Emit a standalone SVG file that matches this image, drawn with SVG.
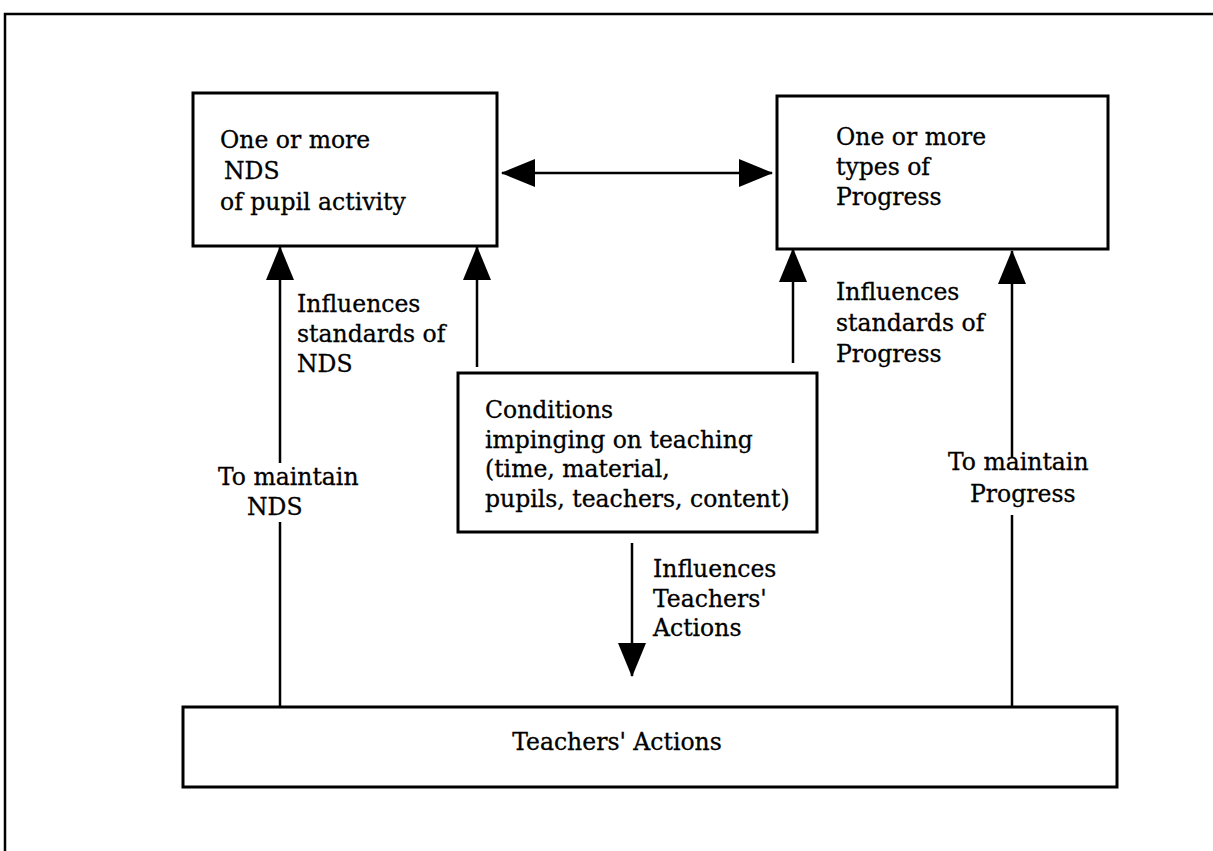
<svg xmlns="http://www.w3.org/2000/svg" width="1213" height="851" viewBox="0 0 1213 851">
<style>
.box{fill:#fff;stroke:#000;stroke-width:3}
.ln{stroke:#000;stroke-width:2.5;fill:none}
text{font-family:"DejaVu Serif","Liberation Serif",serif;font-size:23.5px;fill:#000;stroke:#000;stroke-width:0.3}
</style>
<defs>
<marker id="ah" markerUnits="userSpaceOnUse" markerWidth="34" markerHeight="30" refX="33" refY="15" orient="auto-start-reverse" viewBox="0 0 34 30">
<polygon points="0,1 34,15 0,29" fill="#000"/>
</marker>
</defs>
<rect width="1213" height="851" fill="#fff"/>
<g id="frame"><path class="ln" d="M5,851 V14 H1213" stroke-width="3"/></g>
<g id="connectors">
<line class="ln" x1="502" y1="173" x2="772" y2="173" marker-start="url(#ah)" marker-end="url(#ah)"/>
<line class="ln" x1="280" y1="707" x2="280" y2="522"/>
<line class="ln" x1="280" y1="463" x2="280" y2="247" marker-end="url(#ah)"/>
<line class="ln" x1="477" y1="367" x2="477" y2="247" marker-end="url(#ah)"/>
<line class="ln" x1="793" y1="363" x2="793" y2="249" marker-end="url(#ah)"/>
<line class="ln" x1="1012" y1="707" x2="1012" y2="515"/>
<line class="ln" x1="1012" y1="457" x2="1012" y2="251" marker-end="url(#ah)"/>
<line class="ln" x1="632" y1="543" x2="632" y2="676" marker-end="url(#ah)"/>
</g>
<g id="nds">
<rect class="box" x="193" y="93" width="304" height="153"/>
<text x="220" y="148">One or more</text>
<text x="224" y="179">NDS</text>
<text x="220" y="210">of pupil activity</text>
</g>
<g id="progress">
<rect class="box" x="777" y="96" width="331" height="153"/>
<text x="836" y="145">One or more</text>
<text x="836" y="175">types of</text>
<text x="836" y="205">Progress</text>
</g>
<g id="conditions">
<rect class="box" x="458" y="373" width="359" height="159"/>
<text x="485" y="418">Conditions</text>
<text x="485" y="448">impinging on teaching</text>
<text x="485" y="477">(time, material,</text>
<text x="485" y="507">pupils, teachers, content)</text>
</g>
<g id="teachers-actions">
<rect class="box" x="183" y="707" width="934" height="80"/>
<text x="617" y="750" text-anchor="middle">Teachers' Actions</text>
</g>
<g id="labels">
<text x="297" y="312">Influences</text>
<text x="297" y="342">standards of</text>
<text x="297" y="372">NDS</text>
<text x="836" y="300">Influences</text>
<text x="836" y="331">standards of</text>
<text x="836" y="362">Progress</text>
<text x="218" y="485">To maintain</text>
<text x="247" y="515">NDS</text>
<text x="948" y="470">To maintain</text>
<text x="970" y="502">Progress</text>
<text x="653" y="577">Influences</text>
<text x="653" y="607">Teachers'</text>
<text x="653" y="636">Actions</text>
</g>
</svg>
